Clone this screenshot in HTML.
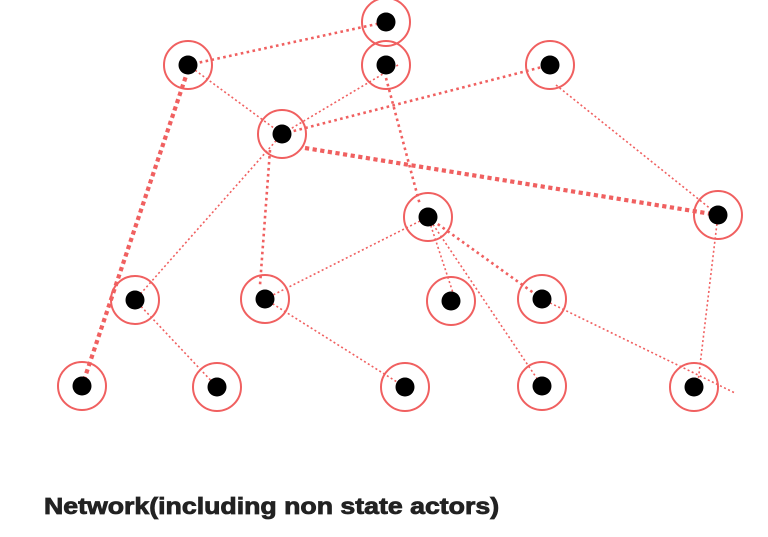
<!DOCTYPE html>
<html><head><style>
html,body{margin:0;padding:0;background:#fff;width:768px;height:537px;overflow:hidden}
svg{position:absolute;left:0;top:0}
.t{position:absolute;left:44px;top:493px;font-family:"Liberation Sans",sans-serif;font-weight:900;font-size:23px;color:#222;white-space:nowrap;transform-origin:0 0;transform:scaleX(1.16);-webkit-text-stroke:0.8px #222}
</style></head><body>
<svg width="768" height="537" viewBox="0 0 768 537">
<g stroke="#f06060" fill="none" stroke-linecap="butt">
<g stroke-width="1.6" stroke-dasharray="2 2.5">
<line x1="188" y1="65" x2="282" y2="134"/>
<line x1="398" y1="65" x2="282" y2="134"/>
<line x1="282" y1="134" x2="135" y2="300"/>
<line x1="556" y1="85" x2="712" y2="210"/>
<line x1="428" y1="217" x2="265" y2="299"/>
<line x1="428" y1="217" x2="457" y2="305"/>
<line x1="428" y1="217" x2="542" y2="386"/>
<line x1="718" y1="215" x2="698" y2="382"/>
<line x1="135" y1="300" x2="217" y2="387"/>
<line x1="265" y1="299" x2="405" y2="387"/>
<line x1="542" y1="299" x2="735" y2="393"/>
</g>
<g stroke-width="2.6" stroke-dasharray="2.6 3.4">
<line x1="188" y1="65" x2="386" y2="22"/>
<line x1="386" y1="78" x2="420" y2="205"/>
<line x1="282" y1="134" x2="550" y2="65"/>
<line x1="270" y1="150" x2="260" y2="285"/>
<line x1="428" y1="217" x2="542" y2="299"/>
</g>
<g stroke-width="4.2" stroke-dasharray="4.2 3.5">
<line x1="305" y1="148" x2="718" y2="215"/>
<line x1="188" y1="70" x2="82" y2="386"/>
</g>
<g stroke-width="2">
<circle cx="386" cy="22" r="24"/>
<circle cx="188" cy="65" r="24"/>
<circle cx="386" cy="65" r="24"/>
<circle cx="550" cy="65" r="24"/>
<circle cx="282" cy="134" r="24"/>
<circle cx="428" cy="217" r="24"/>
<circle cx="718" cy="215" r="24"/>
<circle cx="135" cy="300" r="24"/>
<circle cx="265" cy="299" r="24"/>
<circle cx="451" cy="301" r="24"/>
<circle cx="542" cy="299" r="24"/>
<circle cx="82" cy="386" r="24"/>
<circle cx="217" cy="387" r="24"/>
<circle cx="405" cy="387" r="24"/>
<circle cx="542" cy="386" r="24"/>
<circle cx="694" cy="387" r="24"/>
</g>
</g>
<g fill="#000">
<circle cx="386" cy="22" r="9.5"/>
<circle cx="188" cy="65" r="9.5"/>
<circle cx="386" cy="65" r="9.5"/>
<circle cx="550" cy="65" r="9.5"/>
<circle cx="282" cy="134" r="9.5"/>
<circle cx="428" cy="217" r="9.5"/>
<circle cx="718" cy="215" r="9.5"/>
<circle cx="135" cy="300" r="9.5"/>
<circle cx="265" cy="299" r="9.5"/>
<circle cx="451" cy="301" r="9.5"/>
<circle cx="542" cy="299" r="9.5"/>
<circle cx="82" cy="386" r="9.5"/>
<circle cx="217" cy="387" r="9.5"/>
<circle cx="405" cy="387" r="9.5"/>
<circle cx="542" cy="386" r="9.5"/>
<circle cx="694" cy="387" r="9.5"/>
</g>
</svg>
<div class="t">Network(including non state actors)</div>
</body></html>
